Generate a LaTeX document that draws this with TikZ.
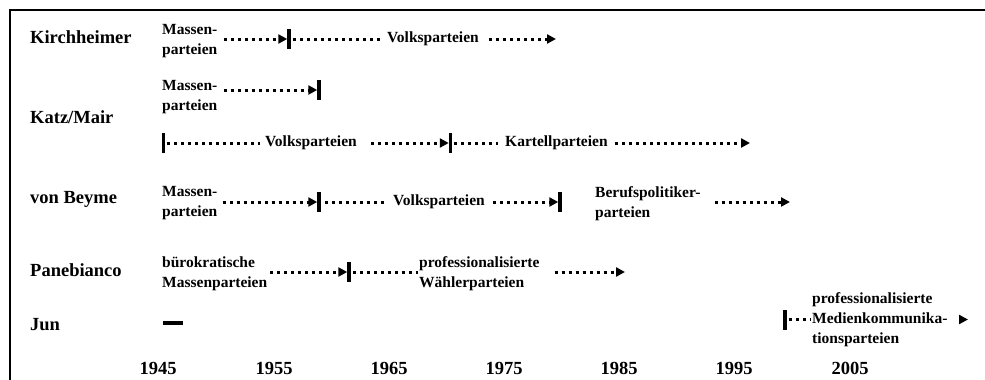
\documentclass[tikz,border=0pt]{standalone}
\usepackage{fontspec}
\setmainfont{Liberation Serif}
\usetikzlibrary{arrows.meta}

\begin{document}
\begin{tikzpicture}[x=1pt, y=-1pt,
        author/.style={anchor=base west, inner sep=0, font=\fontsize{18.5}{20}\selectfont\bfseries},
        year/.style={anchor=base, inner sep=0, font=\fontsize{18.5}{20}\selectfont\bfseries},
        lbl/.style={anchor=west, inner sep=0, align=left, font=\fontsize{15.5}{20}\selectfont\bfseries},
        inl/.style={anchor=west, inner sep=0, text height=10.5pt, text depth=3.5pt, font=\fontsize{15.5}{20}\selectfont\bfseries},
        bar/.style={fill=black, inner sep=0, outer sep=0, minimum width=3.5pt, minimum height=20pt},
        dots/.style={line width=3pt, dash pattern=on 3pt off 4pt},
        dotarrow/.style={dots, -{Triangle[length=9pt,width=9pt]}}]
        \useasboundingbox (0,0) rectangle (985,380);
        \draw[line width=2pt] (10,380) -- (10,10) -- (985,10);

        \node[author] (kirch) at (30,43) {Kirchheimer};
        \node[author] (katz) at (30,123) {Katz/Mair};
        \node[author] (beyme) at (30,203) {von Beyme};
        \node[author] (pane) at (30,276) {Panebianco};
        \node[author] (jun) at (30,330) {Jun};

        \foreach \x/\yr in {158/1945, 274/1955, 389/1965, 504/1975, 619/1985, 734/1995, 850/2005}
            \node[year] (y\yr) at (\x,374) {\yr};

        \node[lbl] (kmass) at (162,41.5) {Massen-\\parteien};
        \node[bar] (kbar) at (289,39) {};
        \node[inl] (kvolk) at (387,39) {Volksparteien};
        \coordinate (kend) at (556,39);
        \draw[dotarrow, shorten <=6pt] (kmass.east |- kbar) -- (kbar);
        \draw[dots, shorten <=2pt, shorten >=4pt] (kbar) -- (kvolk);
        \draw[dotarrow, shorten <=10pt] (kvolk) -- (kend);

        \node[lbl] (kmmass) at (162,97) {Massen-\\parteien};
        \node[bar] (kmbar1) at (319,90) {};
        \draw[dotarrow, shorten <=6pt] (kmmass.east |- kmbar1) -- (kmbar1);

        \node[bar] (kmbar2) at (163.5,143) {};
        \node[inl] (kmvolk) at (265,143) {Volksparteien};
        \node[bar] (kmbar3) at (450.5,143) {};
        \node[inl] (kmkart) at (505,143) {Kartellparteien};
        \coordinate (kmend) at (750,143);
        \draw[dots, shorten <=2pt, shorten >=5pt] (kmbar2) -- (kmvolk);
        \draw[dotarrow, shorten <=14pt] (kmvolk) -- (kmbar3);
        \draw[dots, shorten <=2pt, shorten >=7pt] (kmbar3) -- (kmkart);
        \draw[dotarrow, shorten <=7pt] (kmkart) -- (kmend);

        \node[lbl] (bmass) at (162,203) {Massen-\\parteien};
        \node[bar] (bbar1) at (319,202) {};
        \node[inl] (bvolk) at (393,202) {Volksparteien};
        \node[bar] (bbar2) at (560,202) {};
        \node[lbl] (bberuf) at (595,203.5) {Berufspolitiker-\\parteien};
        \coordinate (bend) at (790,202);
        \draw[dotarrow, shorten <=5pt] (bmass.east |- bbar1) -- (bbar1);
        \draw[dots, shorten <=4pt, shorten >=6pt] (bbar1) -- (bvolk);
        \draw[dotarrow, shorten <=8pt] (bvolk) -- (bbar2);
        \draw[dotarrow, shorten <=14pt] (bberuf.east |- bend) -- (bend);

        \node[lbl] (pbuero) at (162,273.5) {bürokratische\\Massenparteien};
        \node[bar] (pbar) at (349,272) {};
        \node[lbl] (pprof) at (419,273.5) {professionalisierte\\Wählerparteien};
        \coordinate (pend) at (625,272);
        \draw[dotarrow, shorten <=3pt] (pbuero.east |- pbar) -- (pbar);
        \draw[dots, shorten <=2pt, shorten >=1pt] (pbar) -- (pprof.west |- pbar);
        \draw[dotarrow, shorten <=15pt] (pprof.east |- pend) -- (pend);

        \node[fill=black, inner sep=0, minimum width=20pt, minimum height=4pt] (jdash) at (173,323) {};
        \node[bar] (jbar) at (785,319.5) {};
        \node[lbl] (jprof) at (812,320) {professionalisierte\\Medienkommunika-\\tionsparteien};
        \coordinate (jend) at (968,319.5);
        \draw[dots, shorten <=2pt, shorten >=1pt] (jbar) -- (jprof.west |- jbar);
        \draw[dotarrow, shorten <=12pt] (jprof.east |- jend) -- (jend);
    \end{tikzpicture}
\end{document}
